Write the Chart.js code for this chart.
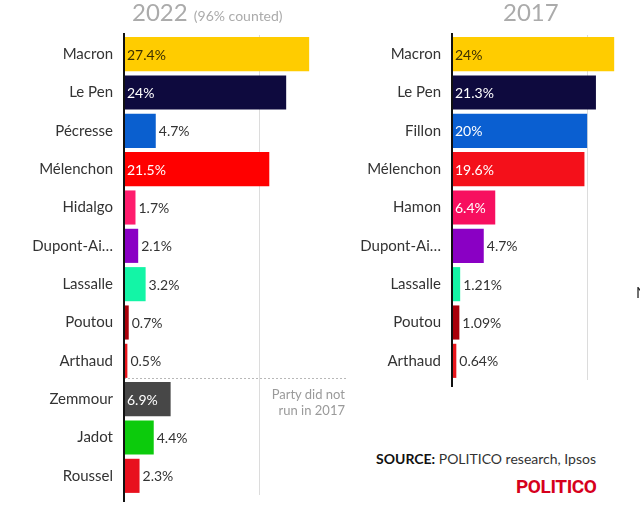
<!DOCTYPE html>
<html>
<head>
<meta charset="utf-8">
<script src="https://cdn.jsdelivr.net/npm/chart.js@4"></script>
<style>
  html, body { margin: 0; padding: 0; background: #fff; overflow: hidden; }
  body { width: 640px; height: 517px; position: relative; font-family: Lato, 'Open Sans', sans-serif; }
  canvas { position: absolute; top: 0; }
  #left { left: 0; }
  #right { left: 340px; }
  .title { position: absolute; top: -3px; color: #ababab; font-weight: 400; font-size: 24px; white-space: nowrap; }
  .title small { font-size: 14px; }
  .note { position: absolute; right: 295px; top: 386px; width: 120px; text-align: right; color: #9a9a9a; font-size: 13px; line-height: 16px; }
  .source { position: absolute; left: 376px; top: 450px; font-size: 14px; color: #333; white-space: nowrap; }
  .source b { color: #111; }
  .logo { position: absolute; left: 516px; top: 475px; color: #d6001c; font-family: 'Liberation Sans Narrow', 'Roboto', sans-serif; font-weight: bold; font-size: 19px; letter-spacing: -0.4px; }
  .edge { position: absolute; left: 636px; top: 283px; font-size: 15px; color: #222; }
</style>
</head>
<body>
<canvas id="left" width="350" height="517"></canvas>
<canvas id="right" width="340" height="400"></canvas>
<div class="title" style="left:132px">2022 <small>(96% counted)</small></div>
<div class="title" style="left:503px">2017</div>
<div class="note">Party did not<br>run in 2017</div>
<div class="source"><b>SOURCE:</b> POLITICO research, Ipsos</div>
<div class="logo">POLITICO</div>
<div class="edge">N</div>
<script>
// 2022 first round
const names2022 = ['Macron', 'Le Pen', 'Pécresse', 'Mélenchon', 'Hidalgo', 'Dupont-Ai…', 'Lassalle', 'Poutou', 'Arthaud', 'Zemmour', 'Jadot', 'Roussel'];
const values2022 = [27.4, 24, 4.7, 21.5, 1.7, 2.1, 3.2, 0.7, 0.5, 6.9, 4.4, 2.3];
const labels2022 = ['27.4%', '24%', '4.7%', '21.5%', '1.7%', '2.1%', '3.2%', '0.7%', '0.5%', '6.9%', '4.4%', '2.3%'];
const colors2022 = ['#ffcc00', '#0e0a3e', '#0a5fcf', '#ff0000', '#ff1c6d', '#8a00c4', '#13f5a6', '#a8000a', '#e8161c', '#474747', '#0ccb0c', '#e8101e'];

// 2017 first round
const names2017 = ['Macron', 'Le Pen', 'Fillon', 'Mélenchon', 'Hamon', 'Dupont-Ai…', 'Lassalle', 'Poutou', 'Arthaud'];
const values2017 = [24, 21.3, 20, 19.6, 6.4, 4.7, 1.21, 1.09, 0.64];
const labels2017 = ['24%', '21.3%', '20%', '19.6%', '6.4%', '4.7%', '1.21%', '1.09%', '0.64%'];
const colors2017 = ['#ffcc00', '#0e0a3e', '#0a5fd1', '#f4101a', '#f70f5f', '#8a00c4', '#13f5a6', '#a8000a', '#e8161c'];

const gridAt = 20;
const xMax = 33;

// values + axis line + separator
const extras = {
  id: 'extras',
  afterDatasetsDraw(chart, args, opts) {
    const { ctx, chartArea: a } = chart;
    const meta = chart.getDatasetMeta(0);
    const labels = opts.labels;
    ctx.save();
    ctx.font = '14px Lato, sans-serif';
    ctx.textBaseline = 'middle';
    meta.data.forEach((bar, i) => {
      const v = chart.data.datasets[0].data[i];
      if (v >= 5) {
        ctx.fillStyle = i === 0 ? '#3b2f00' : '#ffffff';
        ctx.fillText(labels[i], a.left + 3, bar.y + 1);
      } else {
        ctx.fillStyle = '#333';
        ctx.fillText(labels[i], bar.x + 3, bar.y + 1);
      }
    });
    // separator between candidates that ran in 2017 and those who didn't
    if (opts.splitAfter != null) {
      const y = chart.scales.y;
      const py = Math.round((y.getPixelForValue(opts.splitAfter) + y.getPixelForValue(opts.splitAfter + 1)) / 2) - 1.5;
      ctx.strokeStyle = '#b8b8b8';
      ctx.lineWidth = 1;
      ctx.setLineDash([2, 2]);
      ctx.beginPath();
      ctx.moveTo(a.left, py);
      ctx.lineTo(a.right, py);
      ctx.stroke();
      ctx.setLineDash([]);
    }
    ctx.strokeStyle = '#111';
    ctx.lineWidth = 2;
    ctx.beginPath();
    ctx.moveTo(a.left, a.top - 2);
    ctx.lineTo(a.left, a.bottom + 7);
    ctx.stroke();
    ctx.restore();
  }
};

function makeChart(id, names, values, colors, labels, axisWidth, padding, splitAfter) {
  return new Chart(document.getElementById(id), {
    type: 'bar',
    data: {
      labels: names,
      datasets: [{
        data: values,
        backgroundColor: colors,
        borderWidth: 0,
        barPercentage: 0.89,
        categoryPercentage: 1
      }]
    },
    plugins: [extras],
    options: {
      indexAxis: 'y',
      responsive: false,
      animation: false,
      events: [],
      layout: { padding },
      plugins: {
        legend: { display: false },
        tooltip: { enabled: false },
        extras: { labels, splitAfter }
      },
      scales: {
        x: {
          min: 0,
          max: xMax,
          afterFit: s => { s.height = 0; },
          ticks: { display: false, stepSize: 10 },
          border: { display: false },
          grid: {
            drawTicks: false,
            color: c => (c.tick && c.tick.value === gridAt) ? '#dcdcdc' : 'rgba(0,0,0,0)'
          }
        },
        y: {
          afterFit: s => { s.width = axisWidth; },
          border: { display: false },
          grid: { display: false, drawTicks: false },
          ticks: {
            color: '#333',
            padding: 11,
            font: { family: 'Lato, sans-serif', size: 15 }
          }
        }
      }
    }
  });
}

Chart.defaults.font.family = 'Lato, sans-serif';
makeChart('left', names2022, values2022, colors2022, labels2022, 124, { top: 35, bottom: 22, right: 3, left: 0 }, 8);
makeChart('right', names2017, values2017, colors2017, labels2017, 112, { top: 35, bottom: 20, right: 5, left: 0 }, null);
</script>
</body>
</html>
